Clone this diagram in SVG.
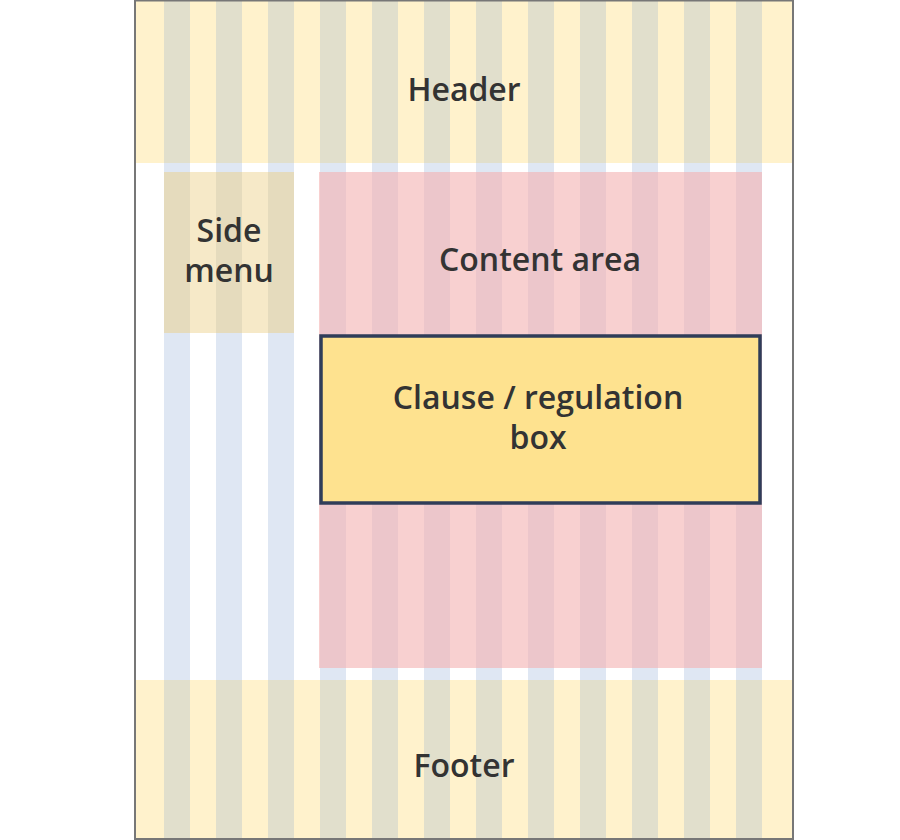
<svg xmlns="http://www.w3.org/2000/svg" width="900" height="840" viewBox="0 0 900 840">
<style>
.t{font-family:"Open Sans","Noto Sans","DejaVu Sans",sans-serif;font-size:32px;font-weight:600;fill:#333333;text-anchor:middle}
</style>
<defs>
<pattern id="pW" patternUnits="userSpaceOnUse" x="164" y="0" width="52" height="10"><rect width="52" height="10" fill="#ffffff"/><rect width="26" height="10" fill="#dfe7f3"/></pattern>
<pattern id="pY" patternUnits="userSpaceOnUse" x="164" y="0" width="52" height="10"><rect width="52" height="10" fill="#fff2cc"/><rect width="26" height="10" fill="#e1dfcc"/></pattern>
<pattern id="pS" patternUnits="userSpaceOnUse" x="164" y="0" width="52" height="10"><rect width="52" height="10" fill="#f6e9c8"/><rect width="26" height="10" fill="#e5dbbd"/></pattern>
<pattern id="pC" patternUnits="userSpaceOnUse" x="164" y="0" width="52" height="10"><rect width="52" height="10" fill="#f8d0d0"/><rect width="26" height="10" fill="#ecc6cb"/></pattern>
</defs>
<rect x="0" y="0" width="900" height="840" fill="#ffffff"/>
<g id="grid">
<rect x="164" y="163" width="598" height="517" fill="url(#pW)"/>
</g>
<g id="header">
<rect x="136" y="1" width="656" height="162" fill="#fff2cc"/>
<rect x="164" y="1" width="598" height="162" fill="url(#pY)"/>
<text class="t" x="464" y="101">Header</text>
</g>
<g id="side-menu">
<rect x="164" y="172" width="130" height="161" fill="url(#pS)"/>
<text class="t" x="229" y="242">Side</text>
<text class="t" x="229" y="282">menu</text>
</g>
<g id="content-area">
<rect x="319" y="172" width="443" height="496" fill="url(#pC)"/>
<text class="t" x="540" y="271">Content area</text>
</g>
<g id="clause-box">
<rect x="321" y="336" width="439" height="167" fill="#fee28f" stroke="#2f3d59" stroke-width="3.5"/>
<text class="t" x="538" y="409">Clause / regulation</text>
<text class="t" x="538" y="449">box</text>
</g>
<g id="footer">
<rect x="136" y="680" width="656" height="158" fill="#fff2cc"/>
<rect x="164" y="680" width="598" height="158" fill="url(#pY)"/>
<text class="t" x="464" y="777">Footer</text>
</g>
<g id="connectors"></g>
<rect x="135" y="0.5" width="658" height="838.5" fill="none" stroke="#777777" stroke-width="2"/>
</svg>
